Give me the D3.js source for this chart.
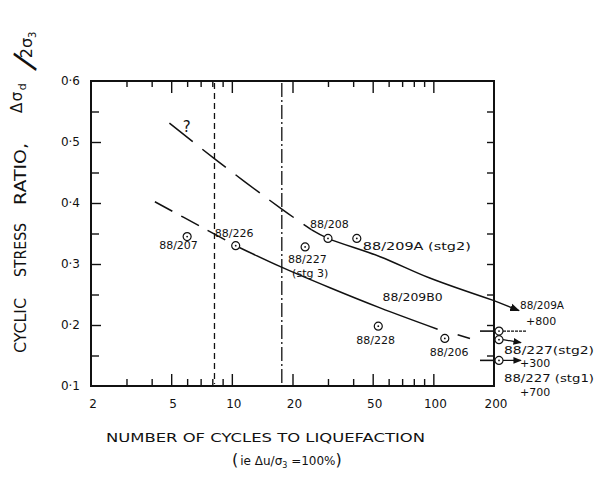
<!DOCTYPE html>
<html>
<head>
<meta charset="utf-8">
<script src="https://cdn.jsdelivr.net/npm/d3@7"></script>
<style>
  body { margin: 0; background: #fff; }
  svg { display: block; }
  text { font-family: "DejaVu Sans", sans-serif; fill: #111; }
</style>
</head>
<body>
<div id="viz-container"></div>
<script>
let w = 599;
let h = 477;

///////////////////////////////////////////////////////////////////////////
// DATA

// x axis (log), y axis
let xLabels = [2, 5, 10, 20, 50, 100, 200];
let xMajor = [5, 10, 20, 50, 100];
let xMinor = [3, 4, 6, 7, 8, 9, 30, 40, 60, 70, 80, 90];
let yLabels = [0.1, 0.2, 0.3, 0.4, 0.5, 0.6];
let yMinor = [0.15, 0.25, 0.35, 0.45, 0.55];

// test points
let testNames = ["88/207", "88/226", "88/227", "88/208", "88/209A (stg2)", "88/228", "88/206"];
let testCycles = [6.0, 10.45, 23.1, 30, 41.7, 53.3, 114];
let testRatio = [0.345, 0.33, 0.328, 0.342, 0.342, 0.198, 0.178];

// tests that ran past 200 cycles
let runoutNames = ["88/209A", "88/227(stg2)", "88/227 (stg1)"];
let runoutExtra = ["+800", "+300", "+700"];
let runoutRatio = [0.19, 0.176, 0.142];

// curves
let upperDashCycles = [4.9, 8.25, 17.7, 24.9];
let upperDashRatio = [0.531, 0.472, 0.39, 0.356];
let upperCycles = [24.9, 30, 54.4, 96, 200];
let upperRatio = [0.356, 0.342, 0.312, 0.277, 0.24];

let lowerDashCycles = [4.15, 7.5, 10.45];
let lowerDashRatio = [0.402, 0.356, 0.33];
let lowerCycles = [10.45, 17.3, 30.7, 54.4, 105];
let lowerRatio = [0.33, 0.296, 0.261, 0.228, 0.193];
let lowerTailCycles = [132, 152];
let lowerTailRatio = [0.184, 0.178];

// vertical reference lines
let refCycles = [8.2, 17.7];

///////////////////////////////////////////////////////////////////////////
// SVG + scales

let viz = d3.select("#viz-container")
  .append("svg")
    .attr("width", w)
    .attr("height", h);

viz.append("rect").attr("width", w).attr("height", h).attr("fill", "#fff");

let x = d3.scaleLog().domain([2, 200]).range([91, 494]);
let y = d3.scaleLinear().domain([0.1, 0.6]).range([386, 81]);

function zip(xs, ys) {
  return xs.map(function (d, i) { return [d, ys[i]]; });
}

let line = d3.line()
  .x(function (d) { return x(d[0]); })
  .y(function (d) { return y(d[1]); })
  .curve(d3.curveCatmullRom.alpha(0.5));

///////////////////////////////////////////////////////////////////////////
// AXES - ticks all point inward

function tickAxis(axisFn, scale, values, size, transform) {
  viz.append("g")
    .attr("transform", transform)
    .call(axisFn(scale).tickValues(values).tickSize(size).tickSizeOuter(0).tickFormat(""))
    .call(function (g) { g.select(".domain").remove(); })
    .selectAll("line").attr("stroke", "#111").attr("stroke-width", 1.4);
}

tickAxis(d3.axisBottom, x, xMajor, -12, "translate(0,386)");
tickAxis(d3.axisBottom, x, xMinor, -7, "translate(0,386)");
tickAxis(d3.axisTop, x, xMajor, -12, "translate(0,81)");
tickAxis(d3.axisTop, x, xMinor, -6, "translate(0,81)");
tickAxis(d3.axisLeft, y, yLabels.slice(1, 5), -10, "translate(91,0)");
tickAxis(d3.axisLeft, y, yMinor, -8, "translate(91,0)");
tickAxis(d3.axisRight, y, yLabels.slice(1, 5).concat(yMinor), -7, "translate(494,0)");

// frame
viz.append("rect")
  .attr("x", x(2)).attr("y", y(0.6))
  .attr("width", x(200) - x(2)).attr("height", y(0.1) - y(0.6))
  .attr("fill", "none").attr("stroke", "#111").attr("stroke-width", 2);

// tick labels
viz.selectAll(".xlab").data(xLabels).enter()
  .append("text")
    .attr("class", "xlab")
    .attr("x", function (d) { return x(d) + 2; })
    .attr("y", 408)
    .attr("text-anchor", "middle")
    .attr("font-size", 12)
    .text(function (d) { return d; });

viz.selectAll(".ylab").data(yLabels).enter()
  .append("text")
    .attr("class", "ylab")
    .attr("x", 80)
    .attr("y", function (d) { return y(d) + 4; })
    .attr("text-anchor", "end")
    .attr("font-size", 12)
    .text(function (d) { return "0·" + Math.round(d * 10); });

///////////////////////////////////////////////////////////////////////////
// vertical reference lines

viz.selectAll(".ref").data(refCycles).enter()
  .append("line")
    .attr("x1", function (d) { return x(d); })
    .attr("x2", function (d) { return x(d); })
    .attr("y1", y(0.6) + 2)
    .attr("y2", y(0.1) - 2)
    .attr("stroke", "#111")
    .attr("stroke-width", 1.3)
    .attr("stroke-dasharray", function (d, i) { return i == 0 ? "6,4" : "14,3,2,3"; });

///////////////////////////////////////////////////////////////////////////
// curves

function curve(xs, ys, dash) {
  viz.append("path")
    .attr("d", line(zip(xs, ys)))
    .attr("fill", "none")
    .attr("stroke", "#111")
    .attr("stroke-width", 1.5)
    .attr("stroke-dasharray", dash);
}

curve(upperDashCycles, upperDashRatio, "30,12");
curve(upperCycles, upperRatio, null);
curve(lowerDashCycles, lowerDashRatio, "20,10");
curve(lowerCycles, lowerRatio, null);
curve(lowerTailCycles, lowerTailRatio, null);

viz.append("text")
  .attr("x", x(5.7)).attr("y", y(0.516))
  .attr("font-size", 15)
  .text("?");

///////////////////////////////////////////////////////////////////////////
// arrow marker
viz.append("defs").append("marker")
  .attr("id", "arrow")
  .attr("viewBox", "0 0 10 10")
  .attr("refX", 9).attr("refY", 5)
  .attr("markerWidth", 7).attr("markerHeight", 7)
  .attr("orient", "auto")
  .append("path")
    .attr("d", "M0,1 L10,5 L0,9 z")
    .attr("fill", "#111");

// the upper curve runs out past 200 cycles
viz.append("line")
  .attr("x1", x(200)).attr("y1", y(0.24))
  .attr("x2", x(200) + 25).attr("y2", y(0.24) + 10)
  .attr("stroke", "#111").attr("stroke-width", 1.4)
  .attr("marker-end", "url(#arrow)");

///////////////////////////////////////////////////////////////////////////
// points

function drawPoint(sel) {
  sel.append("circle")
    .attr("r", 4)
    .attr("fill", "#fff")
    .attr("stroke", "#111")
    .attr("stroke-width", 1.2);
  sel.append("circle")
    .attr("r", 0.9)
    .attr("fill", "#111");
}

// label offsets (dx, dy) from each point
let labelOffset = {
  "88/207": [-28, 12],
  "88/226": [-21, -9],
  "88/227": [-17, 16],
  "88/208": [-18, -10],
  "88/209A (stg2)": [6, 12],
  "88/228": [-22, 18],
  "88/206": [-15, 18]
};

let tests = zip(testCycles, testRatio);

let testGroup = viz.selectAll(".test").data(tests).enter()
  .append("g")
    .attr("class", "test")
    .attr("transform", function (d) { return "translate(" + x(d[0]) + "," + y(d[1]) + ")"; });

drawPoint(testGroup);

testGroup.append("text")
  .attr("x", function (d, i) { return labelOffset[testNames[i]][0]; })
  .attr("y", function (d, i) { return labelOffset[testNames[i]][1]; })
  .attr("font-size", 11)
  .attr("textLength", function (d, i) { return i == 4 ? 108 : null; })
  .attr("lengthAdjust", "spacingAndGlyphs")
  .text(function (d, i) { return testNames[i]; });

// second line under 88/227
viz.append("text")
  .attr("x", x(23.1) - 13).attr("y", y(0.328) + 30)
  .attr("font-size", 11)
  .text("(stg 3)");

viz.append("text")
  .attr("x", x(56)).attr("y", y(0.239))
  .attr("font-size", 11)
  .attr("textLength", 60)
  .attr("lengthAdjust", "spacingAndGlyphs")
  .text("88/209B0");

///////////////////////////////////////////////////////////////////////////
// runouts at 200 cycles

let runGroup = viz.selectAll(".run").data(runoutRatio).enter()
  .append("g")
    .attr("class", "run")
    .attr("transform", function (d) { return "translate(" + (x(200) + 5) + "," + y(d) + ")"; });

// short stroke left of the axis
runGroup.filter(function (d, i) { return i != 1; })
  .append("line")
    .attr("x1", -19).attr("x2", -5).attr("y1", 0).attr("y2", 0)
    .attr("stroke", "#111").attr("stroke-width", 1.6);

runGroup.append("line")
  .attr("x1", 4).attr("y1", 0)
  .attr("x2", function (d, i) { return i == 0 ? 28 : 22; })
  .attr("y2", function (d, i) { return i == 1 ? 3 : 0; })
  .attr("stroke", "#111").attr("stroke-width", 1.2)
  .attr("stroke-dasharray", function (d, i) { return i == 0 ? "3,1" : null; })
  .attr("marker-end", function (d, i) { return i == 0 ? null : "url(#arrow)"; });

drawPoint(runGroup);

let runLabelPos = [[x(200) + 26, 309, 325, 44], [x(200) + 10, 354, 367, 90], [x(200) + 10, 382, 396, 90]];

viz.selectAll(".runlab").data(runoutNames).enter()
  .append("text")
    .attr("x", function (d, i) { return runLabelPos[i][0]; })
    .attr("y", function (d, i) { return runLabelPos[i][1]; })
    .attr("font-size", 11)
    .attr("textLength", function (d, i) { return runLabelPos[i][3]; })
    .attr("lengthAdjust", "spacingAndGlyphs")
    .text(function (d) { return d; });

viz.selectAll(".runext").data(runoutExtra).enter()
  .append("text")
    .attr("x", function (d, i) { return runLabelPos[i][0] + (i == 0 ? 6 : 16); })
    .attr("y", function (d, i) { return runLabelPos[i][2]; })
    .attr("font-size", 11)
    .text(function (d) { return d; });

///////////////////////////////////////////////////////////////////////////
// axis titles

let yWords = [["CYCLIC", 353, 55], ["STRESS", 277, 54], ["RATIO,", 205, 62]];
viz.selectAll(".ytitle").data(yWords).enter()
  .append("text")
    .attr("transform", function (d) { return "translate(26," + d[1] + ") rotate(-90)"; })
    .attr("font-size", 15)
    .attr("textLength", function (d) { return d[2]; })
    .attr("lengthAdjust", "spacingAndGlyphs")
    .text(function (d) { return d[0]; });

let ds = viz.append("text")
  .attr("transform", "translate(22,113) rotate(-90)")
  .attr("font-size", 15)
  .attr("letter-spacing", 1.5);
ds.append("tspan").text("Δσ");
ds.append("tspan").attr("font-size", 11).attr("dy", 4).text("d");

let ds2 = viz.append("text")
  .attr("transform", "translate(33,70) rotate(-90)")
  .attr("font-size", 16);
ds2.append("tspan").attr("font-size", 32).attr("rotate", 18).text("/");
ds2.append("tspan").attr("dx", 1).attr("dy", -1).text("2σ");
ds2.append("tspan").attr("font-size", 10).attr("dy", 4).text("3");

viz.append("text")
  .attr("x", 106).attr("y", 442)
  .attr("font-size", 13)
  .attr("textLength", 319)
  .attr("lengthAdjust", "spacingAndGlyphs")
  .text("NUMBER  OF  CYCLES  TO  LIQUEFACTION");

let sub = viz.append("text")
  .attr("x", 232).attr("y", 465)
  .attr("font-size", 12);
sub.append("tspan").attr("font-size", 16).text("(");
sub.append("tspan").attr("dx", 2).text("ie  Δu/σ");
sub.append("tspan").attr("font-size", 8).attr("dy", 3).text("3");
sub.append("tspan").attr("dy", -3).text(" =100%");
sub.append("tspan").attr("font-size", 16).text(")");
</script>
</body>
</html>
